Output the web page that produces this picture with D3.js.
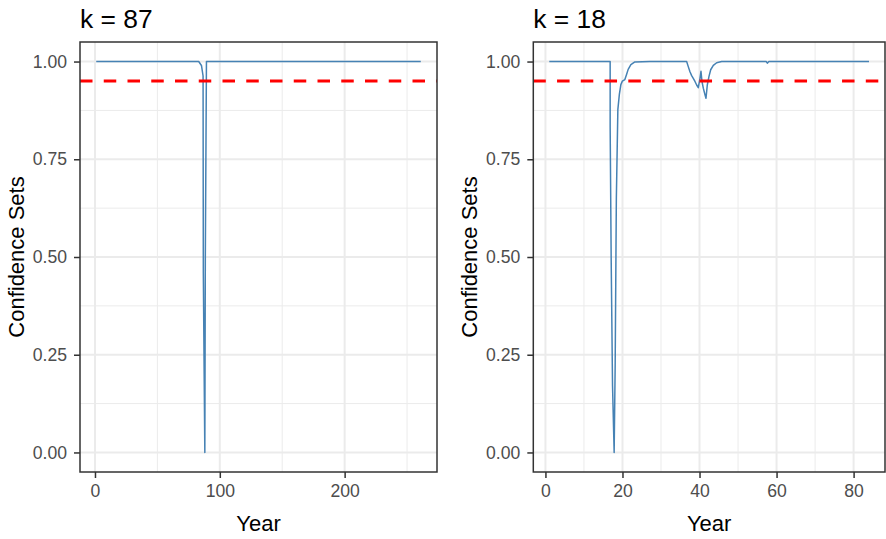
<!DOCTYPE html>
<html>
<head>
<meta charset="utf-8">
<script src="https://cdn.jsdelivr.net/npm/d3@7"></script>
<style>
  html, body { margin: 0; padding: 0; background: #fff; }
  svg { display: block; }
  text { font-family: "Liberation Sans", Arial, sans-serif; }
</style>
</head>
<body>
<svg id="chart" width="886" height="539"></svg>
<script>
// ---- data ----
const titles = ["k = 87", "k = 18"];
const leftYears  = [1, 83.1, 85.3, 86.6, 86.8, 88.0, 88.4, 89.3, 261];
const leftValues = [1, 1, 0.99, 0.963, 0.46, 0.0, 0.5, 1, 1];
const rightYears = [1, 16.8, 16.8, 17.06, 17.42, 17.84, 18.10, 18.41, 18.80, 19.19, 19.58, 19.97, 20.62, 21.06, 21.48, 22.18, 23.22, 27.1,
  36.66, 37.08, 37.52, 37.96, 38.38, 38.82, 39.26, 39.68, 40.12, 40.38, 40.64, 40.98, 41.42, 41.68, 42.02, 42.46, 42.90, 43.58, 44.46, 45.76,
  57.3, 57.6, 58.0, 84];
const rightValues = [1, 1, 0.835, 0.502, 0.17, 0.0, 0.22, 0.651, 0.877, 0.916, 0.941, 0.950, 0.954, 0.967, 0.980, 0.992, 0.999, 1,
  1, 0.987, 0.974, 0.964, 0.957, 0.949, 0.94, 0.933, 0.957, 0.975, 0.949, 0.932, 0.915, 0.906, 0.94, 0.962, 0.979, 0.99, 0.997, 1,
  1, 0.996, 1, 1];
const leftXTicks = [0, 100, 200];
const leftXMinor = [50, 150, 250];
const rightXTicks = [0, 20, 40, 60, 80];
const rightXMinor = [10, 30, 50, 70];
const yTicks = [0, 0.25, 0.5, 0.75, 1];
const yMinor = [0.125, 0.375, 0.625, 0.875];
const threshold = 0.95;

const svg = d3.select("#chart");

function panel(opts) {
  const {left, right, top, bottom, years, values, xTicks, xMinor, title, id} = opts;
  const xMin = d3.min(years), xMax = d3.max(years);
  const xpad = (xMax - xMin) * 0.05;
  const x = d3.scaleLinear().domain([xMin - xpad, xMax + xpad]).range([left, right]);
  const y = d3.scaleLinear().domain([-0.05, 1.05]).range([bottom, top]);
  const g = svg.append("g");

  g.append("clipPath").attr("id", "clip" + id)
    .append("rect").attr("x", left).attr("y", top).attr("width", right - left).attr("height", bottom - top);

  const grid = g.append("g").attr("clip-path", `url(#clip${id})`);
  grid.selectAll(".vmin").data(xMinor).join("line")
    .attr("x1", d => x(d)).attr("x2", d => x(d)).attr("y1", top).attr("y2", bottom)
    .attr("stroke", "#EBEBEB").attr("stroke-width", 1);
  grid.selectAll(".hmin").data(yMinor).join("line")
    .attr("y1", d => y(d)).attr("y2", d => y(d)).attr("x1", left).attr("x2", right)
    .attr("stroke", "#EBEBEB").attr("stroke-width", 1);
  grid.selectAll(".vmaj").data(xTicks).join("line")
    .attr("x1", d => x(d)).attr("x2", d => x(d)).attr("y1", top).attr("y2", bottom)
    .attr("stroke", "#EBEBEB").attr("stroke-width", 2);
  grid.selectAll(".hmaj").data(yTicks).join("line")
    .attr("y1", d => y(d)).attr("y2", d => y(d)).attr("x1", left).attr("x2", right)
    .attr("stroke", "#EBEBEB").attr("stroke-width", 2);

  const data = years.map((yr, i) => [yr, values[i]]);
  const line = d3.line().x(d => x(d[0])).y(d => y(d[1]));
  grid.append("path").datum(data).attr("d", line)
    .attr("fill", "none").attr("stroke", "#4682B4").attr("stroke-width", 1.5)
    .attr("stroke-linejoin", "round");

  grid.append("line")
    .attr("x1", left).attr("x2", right).attr("y1", y(threshold)).attr("y2", y(threshold))
    .attr("stroke", "#FF0000").attr("stroke-width", 3).attr("stroke-dasharray", "12.5,11.25");

  g.append("rect").attr("x", left).attr("y", top).attr("width", right - left).attr("height", bottom - top)
    .attr("fill", "none").attr("stroke", "#333333").attr("stroke-width", 1.5);

  const xAxis = g.append("g").attr("transform", `translate(0,${bottom})`)
    .call(d3.axisBottom(x).tickValues(xTicks).tickFormat(d3.format("d")).tickSize(6).tickPadding(7));
  const yAxis = g.append("g").attr("transform", `translate(${left},0)`)
    .call(d3.axisLeft(y).tickValues(yTicks).tickFormat(d3.format(".2f")).tickSize(6).tickPadding(7));
  [xAxis, yAxis].forEach(a => {
    a.select(".domain").remove();
    a.selectAll(".tick line").attr("stroke", "#333333").attr("stroke-width", 1.5);
    a.selectAll(".tick text").attr("fill", "#4D4D4D").style("font-size", "17.6px")
      .style("font-family", '"Liberation Sans", Arial, sans-serif');
  });

  g.append("text").attr("x", (left + right) / 2).attr("y", 531).attr("text-anchor", "middle")
    .style("font-size", "22px").attr("fill", "#000").text("Year");
  g.append("text").attr("transform", `translate(${left - 56},${(top + bottom) / 2}) rotate(-90)`)
    .attr("text-anchor", "middle").style("font-size", "22px").attr("fill", "#000").text("Confidence Sets");
  g.append("text").attr("x", left).attr("y", 28).style("font-size", "26.4px").attr("fill", "#000").text(title);
}

panel({left: 80, right: 437, top: 42, bottom: 472, years: leftYears, values: leftValues,
  xTicks: leftXTicks, xMinor: leftXMinor, title: titles[0], id: 1});
panel({left: 533.3, right: 885, top: 42, bottom: 472, years: rightYears, values: rightValues,
  xTicks: rightXTicks, xMinor: rightXMinor, title: titles[1], id: 2});
</script>
</body>
</html>
